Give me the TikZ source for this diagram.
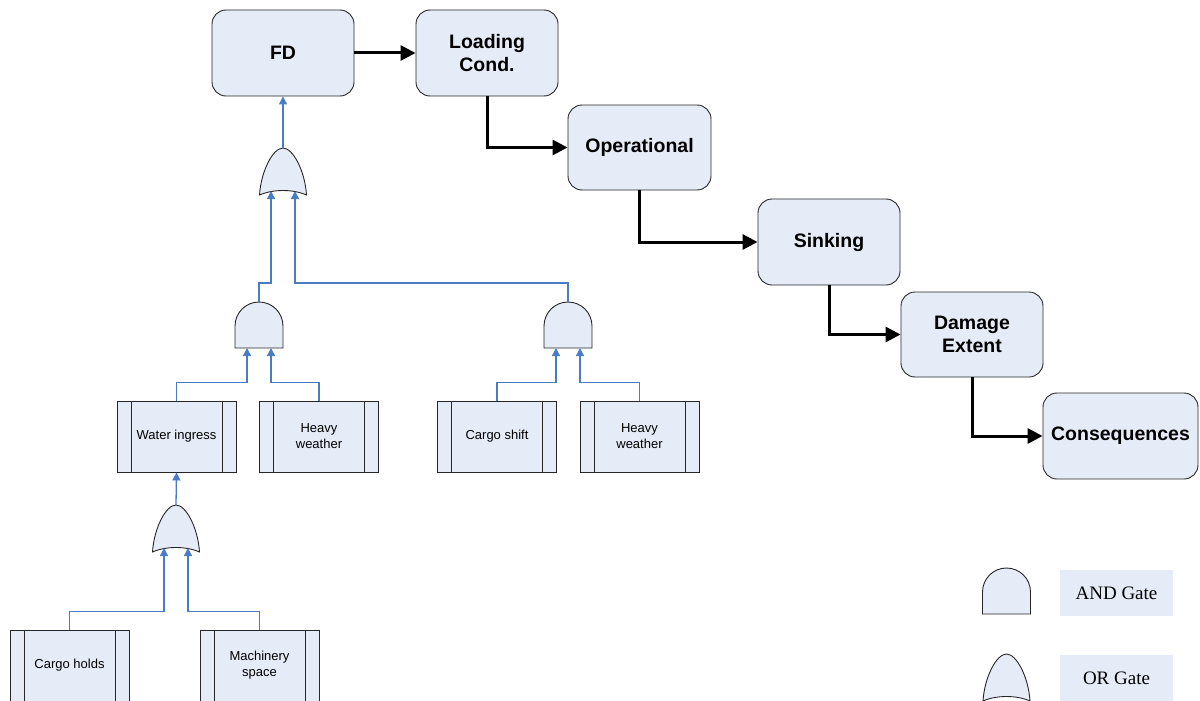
\documentclass[tikz,border=0pt]{standalone}
\usepackage{fontspec}
\setmainfont{Liberation Sans}
\newfontfamily\legendfont{Liberation Serif}
\usetikzlibrary{arrows.meta}

\definecolor{boxfill}{HTML}{E6ECF7}
\definecolor{linkblue}{HTML}{4A7CC4}

\tikzset{
  stagebox/.style={draw=black!85, fill=boxfill, line width=0.9pt, rounded corners=14pt,
    inner sep=0pt, minimum width=142pt, minimum height=86pt, align=center,
    font=\fontsize{19.5}{23}\selectfont\bfseries},
  eventbox/.style={draw=black!85, fill=boxfill, line width=0.9pt, inner sep=0pt,
    minimum width=119pt, minimum height=71pt, align=center,
    font=\fontsize{13}{16}\selectfont,
    path picture={
      \draw[black!85, line width=0.9pt]
        ([xshift=14pt]path picture bounding box.south west) --
        ([xshift=14pt]path picture bounding box.north west);
      \draw[black!85, line width=0.9pt]
        ([xshift=-14pt]path picture bounding box.south east) --
        ([xshift=-14pt]path picture bounding box.north east);
    }},
  legendbox/.style={fill=boxfill, inner sep=0pt, minimum width=113pt, minimum height=46pt,
    font=\fontsize{19}{22}\legendfont},
  flow/.style={line width=3pt, -{Triangle[length=15pt,width=15pt]}},
  link/.style={draw=linkblue, line width=1.3pt, -{Triangle[length=8pt,width=8pt]}},
  gate/.style={draw=black!85, fill=boxfill, line width=0.9pt},
  orgate/.pic={
    \draw[gate] (-23.5,0) .. controls (-22,-24) and (-10,-47) .. (0,-47)
      .. controls (10,-47) and (22,-24) .. (23.5,0)
      .. controls (10,-6) and (-10,-6) .. cycle;
    \coordinate (-out) at (0,-47);
    \coordinate (-in1) at (-12,-4);
    \coordinate (-in2) at (12,-4);
  },
  andgate/.pic={
    \draw[gate] (-24,0) -- (-24,-22) .. controls (-24,-35.25) and (-13.25,-46) .. (0,-46)
      .. controls (13.25,-46) and (24,-35.25) .. (24,-22) -- (24,0) -- cycle;
    \coordinate (-out) at (0,-46);
    \coordinate (-in1) at (-12,0);
    \coordinate (-in2) at (12,0);
  },
}

\begin{document}
\begin{tikzpicture}[x=1pt,y=-1pt]
\useasboundingbox (0,0) rectangle (1200,701);

% consequence chain
\node[stagebox] (fd) at (283,53) {FD};
\node[stagebox] (lc) at (487,53) {Loading\\Cond.};
\node[stagebox, minimum width=143pt, minimum height=85pt] (op) at (639.5,147.5) {Operational};
\node[stagebox] (sk) at (829,242) {Sinking};
\node[stagebox, minimum height=85pt] (de) at (972,334.5) {Damage\\Extent};
\node[stagebox, minimum width=155pt] (cq) at (1120.5,436) {Consequences};

\draw[flow] (fd) -- (lc);
\draw[flow] (lc.south) |- (op.west);
\draw[flow] (op.south) |- (sk.west);
\draw[flow] (sk.south) |- (de.west);
\draw[flow] (de.south) |- (cq.west);

% gates of the fault tree
\pic (or1) at (283,195) {orgate};
\pic (and1) at (259,348) {andgate};
\pic (and2) at (568,348) {andgate};
\pic (or2) at (176,552) {orgate};

% basic events
\node[eventbox] (wi) at (176.5,436.5) {Water ingress};
\node[eventbox] (hw1) at (319,436.5) {Heavy\\weather};
\node[eventbox] (cs) at (497,436.5) {Cargo shift};
\node[eventbox] (hw2) at (639.5,436.5) {Heavy\\weather};
\node[eventbox] (ch) at (69.5,665.5) {Cargo holds};
\node[eventbox] (ms) at (259.5,665.5) {Machinery\\space};

% tree connectors
\draw[link] (or1-out) -- (fd.south);
\draw[link] (and1-out) -- ++(0,-19) -| (or1-in1);
\draw[link] (and2-out) -- ++(0,-19) -| (or1-in2);
\draw[link] (wi.north) -- ++(0,-18) -| (and1-in1);
\draw[link] (hw1.north) -- ++(0,-18) -| (and1-in2);
\draw[link] (cs.north) -- ++(0,-18) -| (and2-in1);
\draw[link] (hw2.north) -- ++(0,-18) -| (and2-in2);
\draw[link] (or2-out) -- (wi.south);
\draw[link] (ch.north) -- ++(0,-18) -| (or2-in1);
\draw[link] (ms.north) -- ++(0,-18) -| (or2-in2);

% legend
\pic (andkey) at (1006.5,614) {andgate};
\node[legendbox] (andlbl) at (1116.5,593) {AND Gate};
\pic (orkey) at (1006.5,701) {orgate};
\node[legendbox] (orlbl) at (1116.5,678) {OR Gate};
\end{tikzpicture}
\end{document}
